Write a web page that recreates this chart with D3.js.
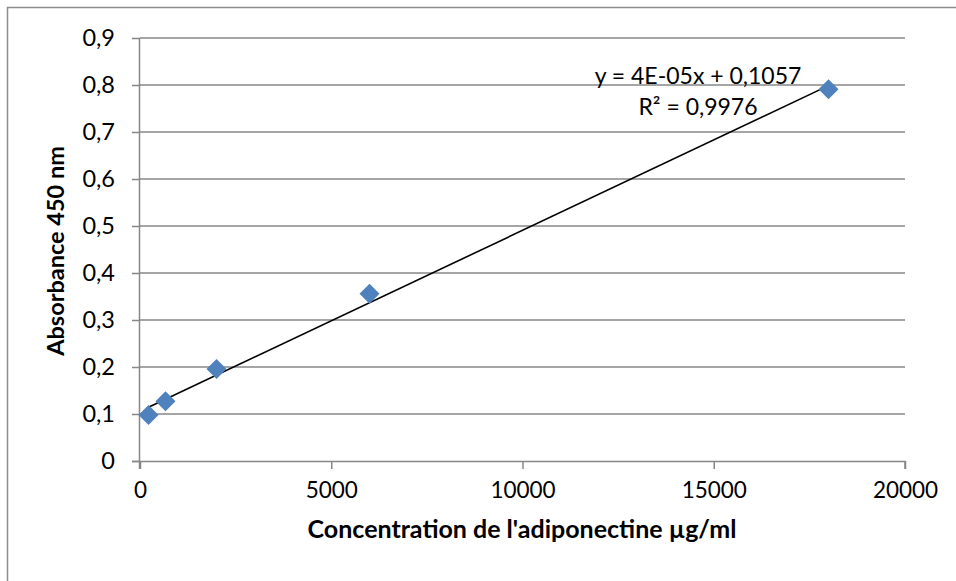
<!DOCTYPE html>
<html>
<head>
<meta charset="utf-8">
<script src="https://cdn.jsdelivr.net/npm/d3@7"></script>
<style>
  html, body { margin: 0; padding: 0; background: #fff; }
  svg { display: block; font-family: Lato, "Open Sans", sans-serif; }
</style>
</head>
<body>
<svg id="chart" width="956" height="581"></svg>
<script>
// ---- data ----
const concentrations = [222, 667, 2000, 6000, 18000];
const absorbances = [0.098, 0.127, 0.196, 0.356, 0.791];
const xTicks = [0, 5000, 10000, 15000, 20000];
const yTicks = [0, 0.1, 0.2, 0.3, 0.4, 0.5, 0.6, 0.7, 0.8, 0.9];
const trendSlope = [0.0000385];
const trendIntercept = [0.1057];
const equationLines = ["y = 4E-05x + 0,1057", "R² = 0,9976"];
const xTitle = "Concentration de l'adiponectine µg/ml";
const yTitle = "Absorbance 450 nm";

const svg = d3.select("#chart");
const m = { left: 140, right: 905, top: 38, bottom: 461 };
const grid = "#878787";

svg.append("rect").attr("x", 7.5).attr("y", 7.5).attr("width", 1200).attr("height", 1200)
  .attr("fill", "#fff").attr("stroke", "#8c8c8c").attr("stroke-width", 1.5);

const x = d3.scaleLinear().domain([0, 20000]).range([m.left, m.right]);
const y = d3.scaleLinear().domain([0, 0.9]).range([m.bottom, m.top]);
const fmtY = v => (v === 0 ? "0" : d3.format(".1f")(v).replace(".", ","));

// gridlines
svg.append("g").selectAll("line").data(yTicks.filter(d => d > 0)).join("line")
  .attr("x1", m.left).attr("x2", m.right)
  .attr("y1", d => y(d)).attr("y2", d => y(d))
  .attr("stroke", grid).attr("stroke-width", 1.5);

// y axis
const yAxis = svg.append("g").attr("transform", `translate(${m.left},0)`)
  .call(d3.axisLeft(y).tickValues(yTicks).tickFormat(fmtY).tickSize(8).tickPadding(17));
// x axis
const xAxis = svg.append("g").attr("transform", `translate(0,${m.bottom})`)
  .call(d3.axisBottom(x).tickValues(xTicks).tickFormat(d3.format("d")).tickSize(8).tickPadding(13));

[yAxis, xAxis].forEach(g => {
  g.select(".domain").attr("stroke", grid).attr("stroke-width", 1.5);
  g.selectAll(".tick line").attr("stroke", grid).attr("stroke-width", 1.5);
  g.selectAll(".tick text").attr("fill", "#000")
    .attr("font-family", "Lato, 'Open Sans', sans-serif");
});
xAxis.selectAll(".tick text").attr("font-size", 22.5);
yAxis.selectAll(".tick text").attr("font-size", 23.5);
xAxis.select(".domain").attr("d", `M${m.left - 8},0.5H${m.right}V8`);
yAxis.select(".domain").attr("d", `M-0.5,${m.top}V${m.bottom + 8}`);

// trend line
const x0 = d3.min(concentrations), x1 = d3.max(concentrations);
svg.append("line")
  .attr("x1", x(x0)).attr("y1", y(trendSlope[0] * x0 + trendIntercept[0]))
  .attr("x2", x(x1)).attr("y2", y(trendSlope[0] * x1 + trendIntercept[0]))
  .attr("stroke", "#000").attr("stroke-width", 1.6);

// points (diamonds)
const pts = concentrations.map((c, i) => ({ c, a: absorbances[i] }));
svg.append("g").selectAll("path").data(pts).join("path")
  .attr("d", d3.symbol().type(d3.symbolSquare).size(200))
  .attr("transform", d => `translate(${x(d.c)},${y(d.a)}) rotate(45)`)
  .attr("fill", "#4F81BD");

// equation
svg.append("g").selectAll("text").data(equationLines).join("text")
  .attr("x", 698).attr("y", (d, i) => 84 + i * 31)
  .attr("text-anchor", "middle").attr("font-size", 23).attr("fill", "#000")
  .text(d => d);

// titles
svg.append("text").attr("x", 522).attr("y", 538)
  .attr("text-anchor", "middle").attr("font-size", 25).attr("font-weight", "bold")
  .text(xTitle);
svg.append("text").attr("transform", `translate(64,251) rotate(-90)`)
  .attr("text-anchor", "middle").attr("font-size", 23.5).attr("font-weight", "bold")
  .text(yTitle);
</script>
</body>
</html>
